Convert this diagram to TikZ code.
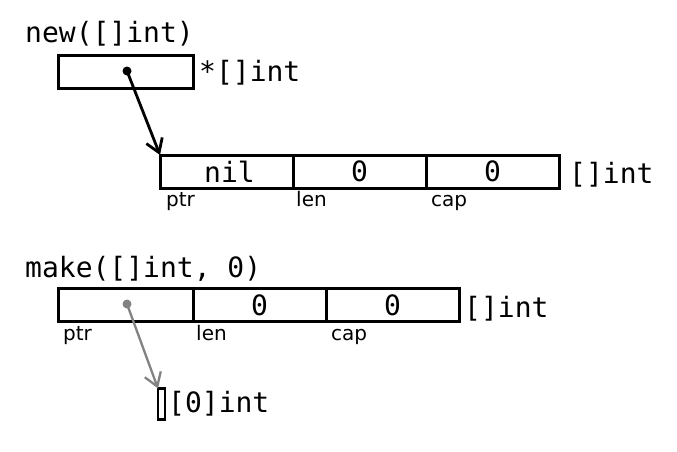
\documentclass[tikz,border=0pt]{standalone}
\usepackage{fontspec}
\setmainfont{DejaVu Sans}
\setmonofont{DejaVu Sans Mono}
\usetikzlibrary{arrows.meta}
\begin{document}
\begin{tikzpicture}[x=1pt,y=-1pt,
  cell/.style={draw,line width=3pt,minimum height=33pt,inner sep=0pt,outer sep=0pt,
    font=\fontsize{28}{30}\ttfamily},
  code/.style={font=\fontsize{28}{30}\ttfamily,inner sep=0pt,anchor=base west},
  lbl/.style={font=\fontsize{20}{22}\selectfont,inner sep=0pt,anchor=base west},
  dot/.style={circle,fill,inner sep=0pt,minimum size=9pt},
  ptrarrow/.style={line width=2.8pt,-{Straight Barb[length=13pt,width=17pt]}}]
\useasboundingbox (0,0) rectangle (677,451);
\definecolor{ptrgray}{RGB}{130,130,130}

% new([]int)
\node[code] (newtxt) at (25,42) {new([]int)};
\node[cell,minimum width=135pt] (box1) at (126,71.5) {};
\node[code] (ptrtype) at (199,81) {*[]int};

\node[cell,minimum width=133pt] (s1p) at (226.5,171.5) {\hspace{6pt}nil};
\node[cell,minimum width=133pt] (s1l) at (359.5,171.5) {0};
\node[cell,minimum width=133pt] (s1c) at (492.5,171.5) {0};
\node[code] (s1type) at (569,183) {[]int};
\node[lbl] (l1p) at (166,206) {ptr};
\node[lbl] (l1l) at (296,206) {len};
\node[lbl] (l1c) at (431,206) {cap};

\node[dot] (d1) at (127,71) {};
\draw[ptrarrow] (d1.center) -- (s1p.north west);

% make([]int, 0)
\node[code] (maketxt) at (25,277) {make([]int, 0)};
\node[cell,minimum width=135pt] (s2p) at (125.5,305) {};
\node[cell,minimum width=133pt] (s2l) at (259.5,305) {0};
\node[cell,minimum width=133pt] (s2c) at (392.5,305) {0};
\node[code] (s2type) at (464,317) {[]int};
\node[lbl] (l2p) at (63,340) {ptr};
\node[lbl] (l2l) at (196,340) {len};
\node[lbl] (l2c) at (331,340) {cap};

\node[dot,fill=ptrgray] (d2) at (127,304) {};
\node[draw,line width=2.5pt,minimum width=7pt,minimum height=31pt,inner sep=0pt,outer sep=0pt] (arr) at (161.5,404) {};
\node[code] (arrtype) at (168,412) {[0]int};
\draw[ptrarrow,ptrgray,line width=2.3pt] (d2.center) -- (arr.north west);
\end{tikzpicture}
\end{document}
